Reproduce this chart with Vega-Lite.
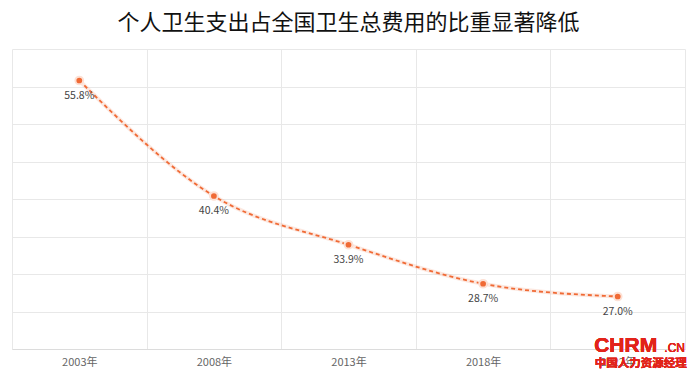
{
  "$schema": "https://vega.github.io/schema/vega-lite/v6.json",
  "width": 673,
  "height": 300,
  "autosize": {"type": "none"},
  "padding": {"left": 12, "top": 49, "right": 15, "bottom": 32},
  "background": "white",
  "title": {
    "text": "个人卫生支出占全国卫生总费用的比重显著降低",
    "font": "Noto Sans CJK SC",
    "fontSize": 22,
    "fontWeight": "normal",
    "color": "#111111",
    "anchor": "middle",
    "offset": 14
  },
  "config": {
    "view": {"stroke": null},
    "axis": {"gridColor": "#e8e8e8", "gridWidth": 1}
  },
  "data": {
    "values": [
      {"year": "2003年", "share": 55.8, "label": "55.8%"},
      {"year": "2008年", "share": 40.4, "label": "40.4%"},
      {"year": "2013年", "share": 33.9, "label": "33.9%"},
      {"year": "2018年", "share": 28.7, "label": "28.7%"},
      {"year": "2022年", "share": 27.0, "label": "27.0%"}
    ]
  },
  "encoding": {
    "x": {
      "field": "year",
      "type": "ordinal",
      "sort": null,
      "scale": {"paddingInner": 0, "paddingOuter": 0},
      "axis": {
        "title": null,
        "labelAngle": 0,
        "tickBand": "extent",
        "grid": true,
        "ticks": false,
        "domainColor": "#dcdcdc",
        "labelFont": "Noto Sans CJK SC",
        "labelFontSize": 11,
        "labelColor": "#666666",
        "labelPadding": 7
      }
    },
    "y": {
      "field": "share",
      "type": "quantitative",
      "scale": {"domain": [20, 60], "nice": false, "zero": false},
      "axis": {
        "title": null,
        "labels": false,
        "ticks": false,
        "domain": false,
        "grid": true,
        "values": [20, 25, 30, 35, 40, 45, 50, 55, 60]
      }
    }
  },
  "layer": [
    {
      "mark": {"type": "line", "interpolate": "monotone", "stroke": "#f4a582", "strokeWidth": 4, "opacity": 0.25}
    },
    {
      "mark": {"type": "line", "interpolate": "monotone", "stroke": "#f06a35", "strokeWidth": 1.8, "strokeDash": [4, 3]}
    },
    {
      "mark": {"type": "point", "filled": true, "fill": "#f06a35", "size": 60, "stroke": "#fde0d4", "strokeWidth": 2, "opacity": 1}
    },
    {
      "mark": {"type": "text", "dy": 15, "font": "Noto Sans CJK SC", "fontSize": 10.5, "color": "#444444"},
      "encoding": {"text": {"field": "label"}}
    },
    {
      "mark": {"type": "text", "font": "Liberation Sans", "fontSize": 21, "fontWeight": "bold", "color": "#e2231a", "dx": 8, "baseline": "alphabetic", "clip": false},
      "encoding": {"x": {"datum": "2022年"}, "y": {"datum": 19.6}, "text": {"value": "CHRM"}}
    },
    {
      "mark": {"type": "text", "font": "Liberation Sans", "fontSize": 12, "color": "#e2231a", "dx": 57, "baseline": "alphabetic", "clip": false},
      "encoding": {"x": {"datum": "2022年"}, "y": {"datum": 19.6}, "text": {"value": ".CN"}}
    },
    {
      "mark": {"type": "text", "font": "Noto Sans CJK SC", "fontSize": 11.5, "fontWeight": "bold", "color": "#e2231a", "dx": 23, "baseline": "alphabetic", "clip": false},
      "encoding": {"x": {"datum": "2022年"}, "y": {"datum": 17.6}, "text": {"value": "中国人力资源经理"}}
    }
  ]
}
